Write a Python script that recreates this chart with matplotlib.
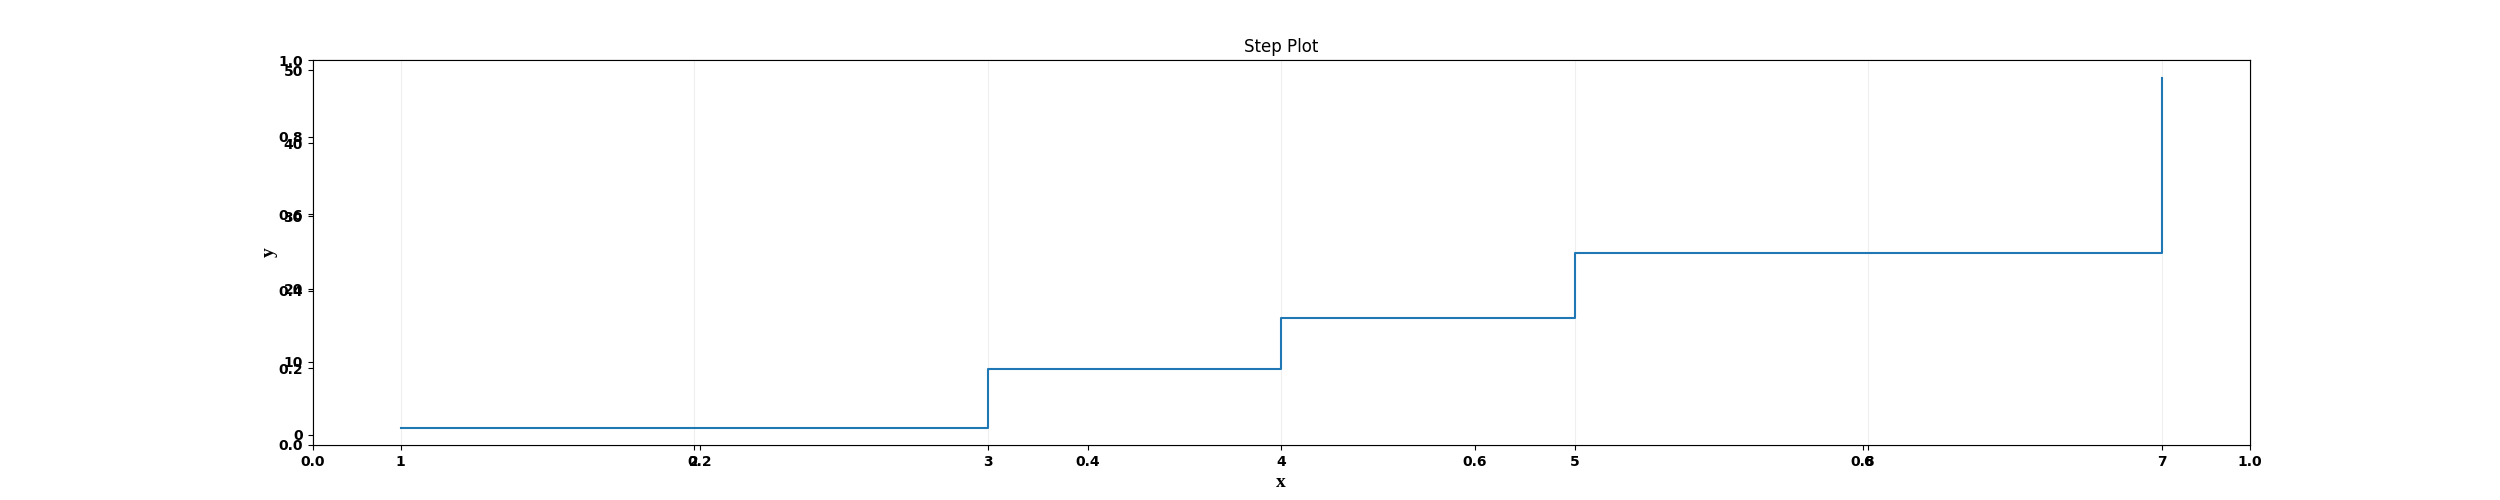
import matplotlib
matplotlib.use('Agg')
import matplotlib.pyplot as plt

# data: y = x squared, drawn as a post step
x = [1, 3, 4, 5, 7]
y = [1, 9, 16, 25, 49]
x_ticks = [1, 2, 3, 4, 5, 6, 7]
y_ticks = [0, 10, 20, 30, 40, 50]

plt.rcParams['font.weight'] = 'bold'

fig, base_ax = plt.subplots(figsize=(25, 5), dpi=100)

# second axes drawn on top of the default one
ax = fig.add_axes(base_ax.get_position())
ax.step(x, y, where='post')
ax.set_xticks(x_ticks)
ax.set_yticks(y_ticks)
ax.grid(axis='x', alpha=0.2)
ax.set_title('Step Plot', fontweight='normal')
ax.set_xlabel('x', fontsize=14, fontweight='bold', family='Liberation Serif')
ax.set_ylabel('y', fontsize=14, fontweight='bold', family='Liberation Serif')

plt.savefig('out.png')
